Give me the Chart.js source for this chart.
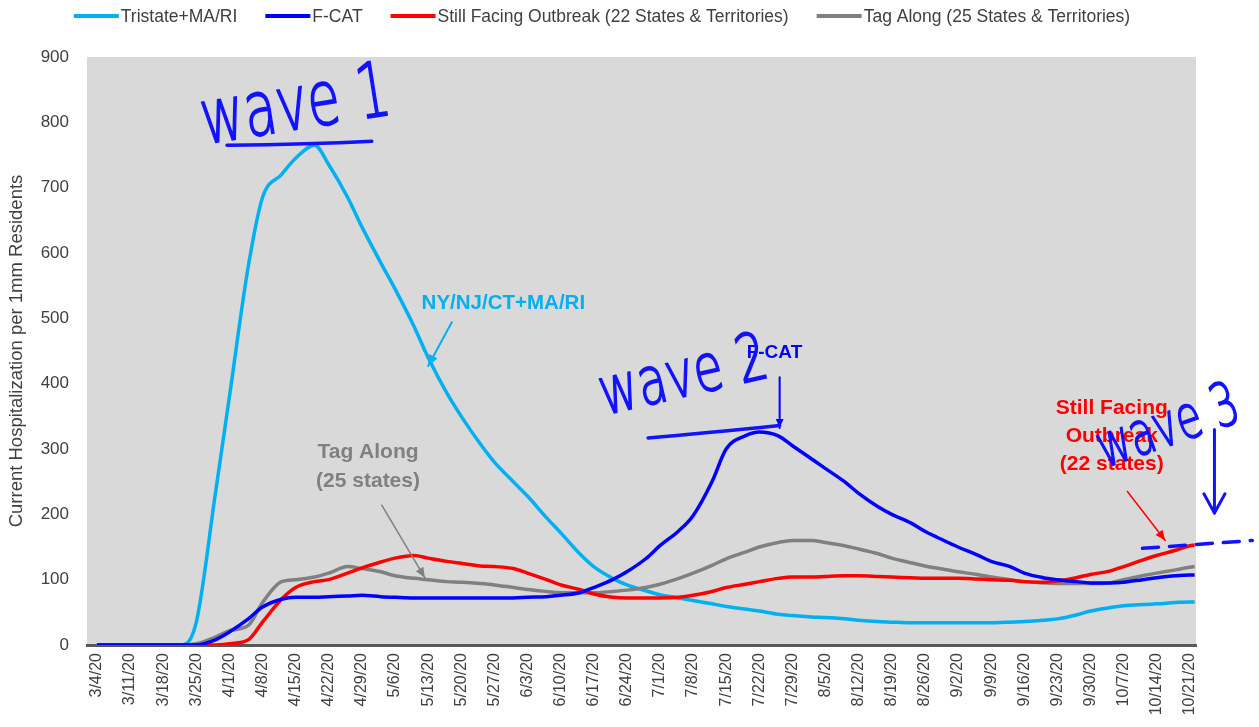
<!DOCTYPE html>
<html>
<head>
<meta charset="utf-8">
<script src="https://cdn.jsdelivr.net/npm/chart.js@4.4.1/dist/chart.umd.min.js"></script>
<style>
  html, body { margin: 0; padding: 0; background: #fff; }
  #wrap { width: 1259px; height: 727px; }
</style>
</head>
<body>
<div id="wrap"><canvas id="chart" width="1259" height="727"></canvas></div>
<script>
// weekly tick labels (one every 7 days, day 0 = 3/4/20)
const weekLabels = ['3/4/20','3/11/20','3/18/20','3/25/20','4/1/20','4/8/20','4/15/20','4/22/20','4/29/20',
  '5/6/20','5/13/20','5/20/20','5/27/20','6/3/20','6/10/20','6/17/20','6/24/20','7/1/20','7/8/20',
  '7/15/20','7/22/20','7/29/20','8/5/20','8/12/20','8/19/20','8/26/20','9/2/20','9/9/20','9/16/20',
  '9/23/20','9/30/20','10/7/20','10/14/20','10/21/20'];

// sample days (days since 3/4/20)
const days = [0,4, 7,11, 14,18, 21,25, 28,32, 35,39, 42,46, 49,53, 56,60, 63,67, 70,74, 77,81,
  84,88, 91,95, 98,102, 105,109, 112,116, 119,123, 126,130, 133,137, 140,144, 147,151, 154,158,
  161,165, 168,172, 175,179, 182,186, 189,193, 196,200, 203,207, 210,214, 217,221, 224,228, 231,232];

const tristate = [0,0, 0,0, 0,0, 35,230, 380,580, 685,720, 745,765, 735,685, 640,585, 545,488,
  440,385, 350,308, 280,250, 228,195, 172,140, 120,102, 92,83, 77,72, 68,63, 59,55, 52,47, 45,43,
  42,40, 38,36, 35,34, 34,34, 34,34, 34,35, 36,38, 40,46, 52,57, 60,62, 63,65, 66,66];

const fcat = [0,0, 0,0, 0,0, 0,8, 20,40, 58,70, 73,73, 74,75, 76,74, 73,72, 72,72, 72,72, 72,72,
  73,74, 76,80, 88,100, 112,132, 152,175, 198,250, 300,320, 326,320, 305,285, 270,250, 232,212,
  200,187, 174,160, 150,138, 128,120, 110,103, 100,97, 95,95, 96,100, 103,106, 107,107];

const stillFacing = [0,0, 0,0, 0,0, 0,0, 2,8, 35,70, 88,97, 100,110, 118,127, 133,137, 133,128,
  125,121, 120,117, 110,100, 92,85, 78,73, 72,72, 72,73, 76,82, 88,93, 97,102, 104,104, 105,106,
  106,105, 104,103, 102,102, 102,101, 100,99, 97,96, 98,103, 108,113, 120,130, 137,145, 152,153];

const tagAlong = [0,0, 0,0, 0,0, 2,12, 22,30, 65,97, 100,104, 110,120, 117,112, 106,102, 100,97,
  96,94, 92,88, 85,82, 80,80, 80,82, 84,88, 93,102, 110,122, 132,142, 150,157, 160,160, 157,152,
  147,140, 133,126, 121,116, 112,108, 104,100, 97,95, 94,94, 94,95, 100,106, 110,115, 119,120];

const seriesNames = ['Tristate+MA/RI', 'F-CAT', 'Still Facing Outbreak (22 States & Territories)',
  'Tag Along (25 States & Territories)'];
const seriesColors = ['#00b0f0', '#0000ff', '#ff0000', '#808080'];

const SANS = '"Liberation Sans", Arial, sans-serif';
const INK = '#1212ff';

function toPoints(vals) {
  return days.map((d, i) => ({ x: d, y: vals[i] }));
}

// gray plot background
const plotBg = {
  id: 'plotBg',
  beforeDraw(chart) {
    const { ctx, chartArea: a } = chart;
    ctx.save();
    ctx.fillStyle = '#d9d9d9';
    ctx.fillRect(a.left, a.top, a.right - a.left, a.bottom - a.top);
    ctx.restore();
  }
};

// one row legend with long line swatches
const lineLegend = {
  id: 'lineLegend',
  afterDraw(chart) {
    const ctx = chart.ctx;
    const lineW = 45, textGap = 2, itemGap = 28, y = 16;
    ctx.save();
    ctx.font = '17.5px ' + SANS;
    ctx.textBaseline = 'middle';
    const items = chart.data.datasets.map(ds => ({
      text: ds.label, color: ds.borderColor, w: ctx.measureText(ds.label).width
    }));
    const total = items.reduce((s, it) => s + lineW + textGap + it.w, 0) + itemGap * (items.length - 1);
    let x = chart.chartArea.right / 2 + 4 - total / 2;
    items.forEach(it => {
      ctx.strokeStyle = it.color;
      ctx.lineWidth = 4;
      ctx.beginPath();
      ctx.moveTo(x, y);
      ctx.lineTo(x + lineW, y);
      ctx.stroke();
      x += lineW + textGap;
      ctx.fillStyle = '#404040';
      ctx.fillText(it.text, x, y + 1);
      x += it.w + itemGap;
    });
    ctx.restore();
  }
};

function arrow(ctx, x1, y1, x2, y2, color, width, head, open) {
  const ang = Math.atan2(y2 - y1, x2 - x1);
  ctx.save();
  ctx.strokeStyle = color;
  ctx.fillStyle = color;
  ctx.lineWidth = width;
  ctx.lineCap = 'round';
  ctx.lineJoin = 'round';
  ctx.beginPath();
  ctx.moveTo(x1, y1);
  ctx.lineTo(x2, y2);
  ctx.stroke();
  ctx.beginPath();
  if (open) {
    ctx.moveTo(x2 - head * Math.cos(ang - 0.5), y2 - head * Math.sin(ang - 0.5));
    ctx.lineTo(x2, y2);
    ctx.lineTo(x2 - head * Math.cos(ang + 0.5), y2 - head * Math.sin(ang + 0.5));
    ctx.stroke();
  } else {
    ctx.moveTo(x2, y2);
    ctx.lineTo(x2 - head * Math.cos(ang - 0.4), y2 - head * Math.sin(ang - 0.4));
    ctx.lineTo(x2 - head * Math.cos(ang + 0.4), y2 - head * Math.sin(ang + 0.4));
    ctx.closePath();
    ctx.fill();
  }
  ctx.restore();
}

function label(ctx, lines, x, y, color, size, gap) {
  ctx.save();
  ctx.fillStyle = color;
  ctx.font = 'bold ' + size + 'px ' + SANS;
  ctx.textAlign = 'center';
  ctx.textBaseline = 'middle';
  lines.forEach((t, i) => ctx.fillText(t, x, y + i * gap));
  ctx.restore();
}

function hand(ctx, text, x, y, deg, size, sx) {
  ctx.save();
  ctx.translate(x, y);
  ctx.rotate(deg * Math.PI / 180);
  ctx.scale(sx, 1);
  ctx.fillStyle = INK;
  ctx.strokeStyle = INK;
  ctx.lineWidth = 1.8;
  ctx.font = '200 ' + size + 'px "DejaVu Sans", sans-serif';
  ctx.textBaseline = 'alphabetic';
  ctx.fillText(text, 0, 0);
  ctx.strokeText(text, 0, 0);
  ctx.restore();
}

// printed callouts plus the pen marks on top
const notes = {
  id: 'notes',
  afterDraw(chart) {
    const ctx = chart.ctx;
    const X = v => chart.scales.x.getPixelForValue(v);
    const Y = v => chart.scales.y.getPixelForValue(v);

    label(ctx, ['NY/NJ/CT+MA/RI'], X(85.9), Y(523), '#00b0f0', 20.5, 0);
    arrow(ctx, X(75), Y(494), X(70), Y(427), '#00b0f0', 2, 12, false);

    label(ctx, ['Tag Along', '(25 states)'], X(57.3), Y(295), '#808080', 21, 29);
    arrow(ctx, X(60.2), Y(214), X(69.3), Y(103), '#808080', 1.5, 11, false);

    label(ctx, ['Still Facing', 'Outbreak', '(22 states)'], X(214.5), Y(363), '#ff0000', 21, 28);
    arrow(ctx, X(217.8), Y(235), X(225.8), Y(160), '#ff0000', 1.5, 11, false);

    label(ctx, ['F-CAT'], X(143.2), Y(448), '#0000ff', 19, 0);
    arrow(ctx, X(144.3), Y(410), X(144.3), Y(332), '#0000ff', 2, 10, false);

    // pen marks
    ctx.save();
    ctx.strokeStyle = INK;
    ctx.lineWidth = 3.5;
    ctx.lineCap = 'round';
    ctx.beginPath();
    ctx.moveTo(X(27.5), Y(765));
    ctx.quadraticCurveTo(X(45), Y(766), X(58.1), Y(771));
    ctx.stroke();
    ctx.beginPath();
    ctx.moveTo(X(116.5), Y(317));
    ctx.quadraticCurveTo(X(128), Y(324), X(144.3), Y(336));
    ctx.stroke();
    ctx.setLineDash([16, 11]);
    ctx.beginPath();
    ctx.moveTo(X(221), Y(148));
    ctx.lineTo(X(244.2), Y(160));
    ctx.stroke();
    ctx.restore();

    hand(ctx, 'wave 1', X(22.8), Y(767), -9, 76, 0.7);
    hand(ctx, 'wave 2', X(107.3), Y(352), -13, 66, 0.72);
    hand(ctx, 'wave 3', X(213), Y(271), -19, 60, 0.68);
    arrow(ctx, X(236.2), Y(330), X(236.2), Y(202), INK, 3, 22, true);
  }
};

new Chart(document.getElementById('chart'), {
  type: 'line',
  data: {
    datasets: [tristate, fcat, stillFacing, tagAlong].map((vals, i) => ({
      label: seriesNames[i],
      data: toPoints(vals),
      borderColor: seriesColors[i],
      backgroundColor: seriesColors[i],
      borderWidth: 3.5,
      pointRadius: 0,
      cubicInterpolationMode: 'monotone',
      order: [3, 0, 1, 2][i]
    }))
  },
  options: {
    responsive: false,
    animation: false,
    devicePixelRatio: 1,
    layout: { padding: { top: 57, right: 63, left: 0, bottom: 0 } },
    plugins: {
      legend: { display: false },
      tooltip: { enabled: false }
    },
    scales: {
      x: {
        type: 'linear',
        min: -2.1,
        max: 232.3,
        afterBuildTicks: scale => { scale.ticks = weekLabels.map((_, i) => ({ value: i * 7 })); },
        afterFit: scale => { scale.height = 82; },
        grid: { display: false, drawTicks: false },
        border: { display: true, color: '#595959', width: 3 },
        ticks: {
          autoSkip: false,
          minRotation: 90,
          maxRotation: 90,
          padding: 8,
          color: '#404040',
          font: { family: SANS, size: 16 },
          callback: v => weekLabels[Math.round(v / 7)]
        }
      },
      y: {
        min: 0,
        max: 900,
        afterFit: scale => { scale.width = 87; },
        grid: { display: false, drawTicks: false },
        border: { display: false },
        ticks: {
          stepSize: 100,
          padding: 18,
          color: '#404040',
          font: { family: SANS, size: 17 }
        },
        title: {
          display: true,
          text: 'Current Hospitalization per 1mm Residents',
          color: '#404040',
          font: { family: SANS, size: 18.5 },
          padding: { top: 6, bottom: 0 }
        }
      }
    }
  },
  plugins: [plotBg, lineLegend, notes]
});
</script>
</body>
</html>
